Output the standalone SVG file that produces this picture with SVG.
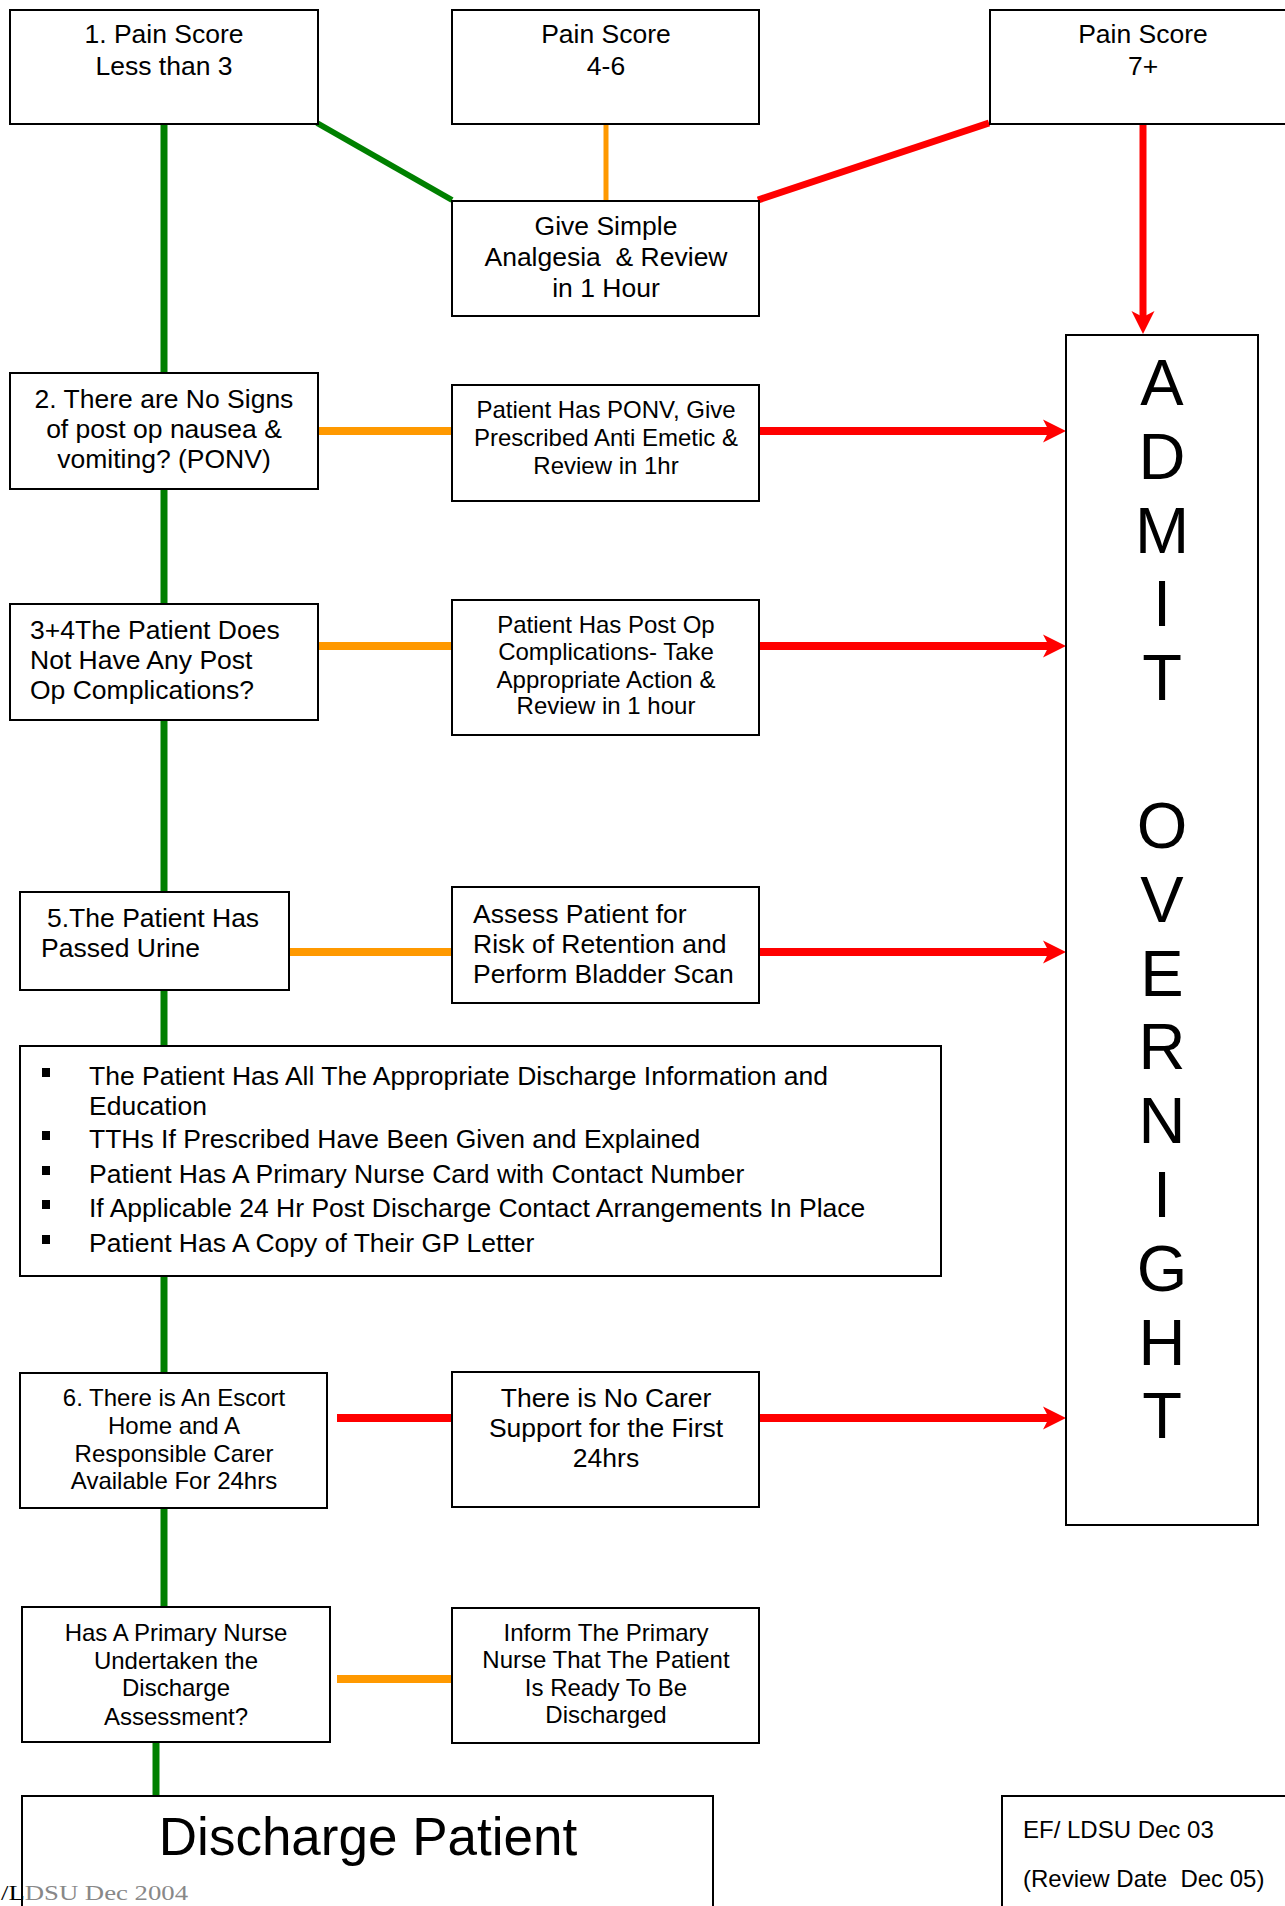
<svg xmlns="http://www.w3.org/2000/svg" width="1285" height="1906" viewBox="0 0 1285 1906">
<style>
.box{fill:#fff;stroke:#000;stroke-width:2}
.t{font-family:"Liberation Sans",Arial,sans-serif;fill:#000}
.c{text-anchor:middle}
.f26{font-size:26.5px}
.f24{font-size:24px}
.g{stroke:#008000;fill:none}
.o{stroke:#FF9900;fill:none}
.r{stroke:#FF0000;fill:none}
.big{font-size:65px}
</style>
<defs>
<marker id="ah" markerUnits="userSpaceOnUse" markerWidth="24" markerHeight="24" refX="6" refY="12" orient="auto">
<path d="M0,0.5 L23,12 L0,23.5 L6,12 Z" fill="#FF0000"/>
</marker>
</defs>
<rect width="1285" height="1906" fill="#fff"/>
<g id="connectors">
<line class="g" x1="164" y1="124" x2="164" y2="1607" stroke-width="7"/>
<line class="g" x1="156" y1="1742" x2="156" y2="1796" stroke-width="7"/>
<line class="g" x1="317" y1="123" x2="452" y2="200" stroke-width="6"/>
<line class="o" x1="606" y1="124" x2="606" y2="201" stroke-width="5"/>
<line class="r" x1="989" y1="123" x2="758" y2="200" stroke-width="7"/>
<line class="r" x1="1143" y1="124" x2="1143" y2="317" stroke-width="7" marker-end="url(#ah)"/>
<line class="o" x1="318" y1="431" x2="452" y2="431" stroke-width="8"/>
<line class="o" x1="318" y1="646" x2="452" y2="646" stroke-width="8"/>
<line class="o" x1="289" y1="952" x2="452" y2="952" stroke-width="8"/>
<line class="o" x1="337" y1="1679" x2="452" y2="1679" stroke-width="8"/>
<line class="r" x1="337" y1="1418" x2="452" y2="1418" stroke-width="8"/>
<line class="r" x1="759" y1="431" x2="1049" y2="431" stroke-width="8" marker-end="url(#ah)"/>
<line class="r" x1="759" y1="646" x2="1049" y2="646" stroke-width="8" marker-end="url(#ah)"/>
<line class="r" x1="759" y1="952" x2="1049" y2="952" stroke-width="8" marker-end="url(#ah)"/>
<line class="r" x1="759" y1="1418" x2="1049" y2="1418" stroke-width="8" marker-end="url(#ah)"/>
</g>
<g id="pain-low">
<rect class="box" x="10" y="10" width="308" height="114"/>
<text class="t c f26" x="164" y="43">1. Pain Score</text>
<text class="t c f26" x="164" y="75">Less than 3</text>
</g>
<g id="pain-mid">
<rect class="box" x="452" y="10" width="307" height="114"/>
<text class="t c f26" x="606" y="43">Pain Score</text>
<text class="t c f26" x="606" y="75">4-6</text>
</g>
<g id="pain-high">
<rect class="box" x="990" y="10" width="306" height="114"/>
<text class="t c f26" x="1143" y="43">Pain Score</text>
<text class="t c f26" x="1143" y="75">7+</text>
</g>
<g id="analgesia">
<rect class="box" x="452" y="201" width="307" height="115"/>
<text class="t c f26" x="606" y="235">Give Simple</text>
<text class="t c f26" x="606" y="266" xml:space="preserve">Analgesia  &amp; Review</text>
<text class="t c f26" x="606" y="297">in 1 Hour</text>
</g>
<g id="admit">
<rect class="box" x="1066" y="335" width="192" height="1190"/>
<text class="t c big" x="1162" y="405">A</text>
<text class="t c big" x="1162" y="479">D</text>
<text class="t c big" x="1162" y="553">M</text>
<text class="t c big" x="1162" y="626">I</text>
<text class="t c big" x="1162" y="700">T</text>
<text class="t c big" x="1162" y="848">O</text>
<text class="t c big" x="1162" y="922">V</text>
<text class="t c big" x="1162" y="996">E</text>
<text class="t c big" x="1162" y="1069">R</text>
<text class="t c big" x="1162" y="1143">N</text>
<text class="t c big" x="1162" y="1217">I</text>
<text class="t c big" x="1162" y="1291">G</text>
<text class="t c big" x="1162" y="1365">H</text>
<text class="t c big" x="1162" y="1438">T</text>
</g>
<g id="ponv-q">
<rect class="box" x="10" y="373" width="308" height="116"/>
<text class="t c f26" x="164" y="408">2. There are No Signs</text>
<text class="t c f26" x="164" y="438">of post op nausea &amp;</text>
<text class="t c f26" x="164" y="468">vomiting? (PONV)</text>
</g>
<g id="ponv-a">
<rect class="box" x="452" y="385" width="307" height="116"/>
<text class="t c f24" x="606" y="418">Patient Has PONV, Give</text>
<text class="t c f24" x="606" y="446">Prescribed Anti Emetic &amp;</text>
<text class="t c f24" x="606" y="474">Review in 1hr</text>
</g>
<g id="comp-q">
<rect class="box" x="10" y="604" width="308" height="116"/>
<text class="t f26" x="30" y="639">3+4The Patient Does</text>
<text class="t f26" x="30" y="669">Not Have Any Post</text>
<text class="t f26" x="30" y="699">Op Complications?</text>
</g>
<g id="comp-a">
<rect class="box" x="452" y="600" width="307" height="135"/>
<text class="t c f24" x="606" y="633">Patient Has Post Op</text>
<text class="t c f24" x="606" y="660">Complications- Take</text>
<text class="t c f24" x="606" y="688">Appropriate Action &amp;</text>
<text class="t c f24" x="606" y="714">Review in 1 hour</text>
</g>
<g id="urine-q">
<rect class="box" x="20" y="892" width="269" height="98"/>
<text class="t f26" x="47" y="927">5.The Patient Has</text>
<text class="t f26" x="41" y="957">Passed Urine</text>
</g>
<g id="urine-a">
<rect class="box" x="452" y="887" width="307" height="116"/>
<text class="t f26" x="473" y="923">Assess Patient for</text>
<text class="t f26" x="473" y="953">Risk of Retention and</text>
<text class="t f26" x="473" y="983">Perform Bladder Scan</text>
</g>
<g id="checklist">
<rect class="box" x="20" y="1046" width="921" height="230"/>
<rect x="42" y="1068" width="8" height="9" fill="#000"/>
<rect x="42" y="1131" width="8" height="9" fill="#000"/>
<rect x="42" y="1166" width="8" height="9" fill="#000"/>
<rect x="42" y="1200" width="8" height="9" fill="#000"/>
<rect x="42" y="1235" width="8" height="9" fill="#000"/>
<text class="t f26" x="89" y="1085">The Patient Has All The Appropriate Discharge Information and</text>
<text class="t f26" x="89" y="1115">Education</text>
<text class="t f26" x="89" y="1148">TTHs If Prescribed Have Been Given and Explained</text>
<text class="t f26" x="89" y="1183">Patient Has A Primary Nurse Card with Contact Number</text>
<text class="t f26" x="89" y="1217">If Applicable 24 Hr Post Discharge Contact Arrangements In Place</text>
<text class="t f26" x="89" y="1252">Patient Has A Copy of Their GP Letter</text>
</g>
<g id="escort-q">
<rect class="box" x="20" y="1373" width="307" height="135"/>
<text class="t c f24" x="174" y="1406">6. There is An Escort</text>
<text class="t c f24" x="174" y="1434">Home and A</text>
<text class="t c f24" x="174" y="1462">Responsible Carer</text>
<text class="t c f24" x="174" y="1489">Available For 24hrs</text>
</g>
<g id="escort-a">
<rect class="box" x="452" y="1372" width="307" height="135"/>
<text class="t c f26" x="606" y="1407">There is No Carer</text>
<text class="t c f26" x="606" y="1437">Support for the First</text>
<text class="t c f26" x="606" y="1467">24hrs</text>
</g>
<g id="nurse-q">
<rect class="box" x="22" y="1607" width="308" height="135"/>
<text class="t c f24" x="176" y="1641">Has A Primary Nurse</text>
<text class="t c f24" x="176" y="1669">Undertaken the</text>
<text class="t c f24" x="176" y="1696">Discharge</text>
<text class="t c f24" x="176" y="1725">Assessment?</text>
</g>
<g id="nurse-a">
<rect class="box" x="452" y="1608" width="307" height="135"/>
<text class="t c f24" x="606" y="1641">Inform The Primary</text>
<text class="t c f24" x="606" y="1668">Nurse That The Patient</text>
<text class="t c f24" x="606" y="1696">Is Ready To Be</text>
<text class="t c f24" x="606" y="1723">Discharged</text>
</g>
<g id="discharge">
<rect class="box" x="22" y="1796" width="691" height="200"/>
<text class="t c" x="368" y="1855" font-size="53">Discharge Patient</text>
</g>
<g id="review">
<rect class="box" x="1002" y="1796" width="300" height="200"/>
<text class="t f24" x="1023" y="1838">EF/ LDSU Dec 03</text>
<text class="t f24" x="1023" y="1887" xml:space="preserve">(Review Date  Dec 05)</text>
</g>
<text x="1" y="1900" font-family="'Liberation Serif','Times New Roman',serif" font-size="21" fill="#888" textLength="187" lengthAdjust="spacingAndGlyphs"><tspan fill="#000">/L</tspan>DSU Dec 2004</text>
</svg>
